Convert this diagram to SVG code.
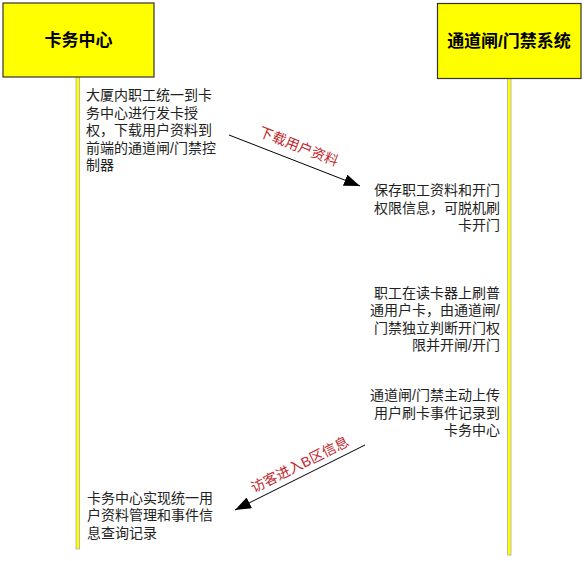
<svg xmlns="http://www.w3.org/2000/svg" width="584" height="561" viewBox="0 0 584 561">
<style>
.box{fill:#ffff00;stroke:#333;stroke-width:1.2}
.life{fill:#ffff00;stroke:#aaa;stroke-width:0.8}
.title{font-family:"Liberation Sans","Noto Sans CJK SC",sans-serif;font-size:17px;font-weight:bold;fill:#000;text-anchor:middle}
.t{font-family:"Liberation Sans","Noto Sans CJK SC",sans-serif;font-size:14px;fill:#222}
.r{text-anchor:end}
.lbl{font-family:"Liberation Sans","Noto Sans CJK SC",sans-serif;font-size:14px;fill:#c0272d;text-anchor:middle}
.msg{stroke:#000;stroke-width:1;fill:none}
</style>
<defs>
<marker id="ah" viewBox="0 0 16 12" refX="16" refY="6" markerWidth="16" markerHeight="12" markerUnits="userSpaceOnUse" orient="auto">
<path d="M0,0 L16,6 L0,12 Z" fill="#000"/>
</marker>
</defs>
<rect width="584" height="561" fill="#fff"/>
<g id="node-card">
<rect class="life" x="76" y="77" width="3.5" height="472"/>
<rect class="box" x="3" y="3" width="151" height="74"/>
<text class="title" x="78.5" y="46">卡务中心</text>
</g>
<g id="node-gate">
<rect class="life" x="507.5" y="78" width="3.5" height="477"/>
<rect class="box" x="437.5" y="3.5" width="143.5" height="75"/>
<text class="title" x="509" y="47">通道闸/门禁系统</text>
</g>
<g id="notes">
<text class="t" x="86"><tspan x="86" y="100">大厦内职工统一到卡</tspan><tspan x="86" y="117.5">务中心进行发卡授</tspan><tspan x="86" y="135">权，下载用户资料到</tspan><tspan x="86" y="152.5">前端的通道闸/门禁控</tspan><tspan x="86" y="170">制器</tspan></text>
<text class="t r"><tspan x="500" y="195">保存职工资料和开门</tspan><tspan x="500" y="212.5">权限信息，可脱机刷</tspan><tspan x="500" y="230">卡开门</tspan></text>
<text class="t r"><tspan x="500" y="297.5">职工在读卡器上刷普</tspan><tspan x="500" y="315">通用户卡，由通道闸/</tspan><tspan x="500" y="332.5">门禁独立判断开门权</tspan><tspan x="500" y="350">限并开闸/开门</tspan></text>
<text class="t r"><tspan x="500" y="400">通道闸/门禁主动上传</tspan><tspan x="500" y="417.5">用户刷卡事件记录到</tspan><tspan x="500" y="435">卡务中心</tspan></text>
<text class="t"><tspan x="87" y="502.5">卡务中心实现统一用</tspan><tspan x="87" y="520">户资料管理和事件信</tspan><tspan x="87" y="537.5">息查询记录</tspan></text>
</g>
<g id="connectors">
<line class="msg" x1="229" y1="135" x2="360" y2="186" marker-end="url(#ah)"/>
<text class="lbl" transform="translate(297,151) rotate(21.3)">下载用户资料</text>
<line class="msg" x1="365" y1="445" x2="235" y2="510" marker-end="url(#ah)"/>
<text class="lbl" transform="translate(302,469) rotate(-26.6)">访客进入B区信息</text>
</g>
</svg>
